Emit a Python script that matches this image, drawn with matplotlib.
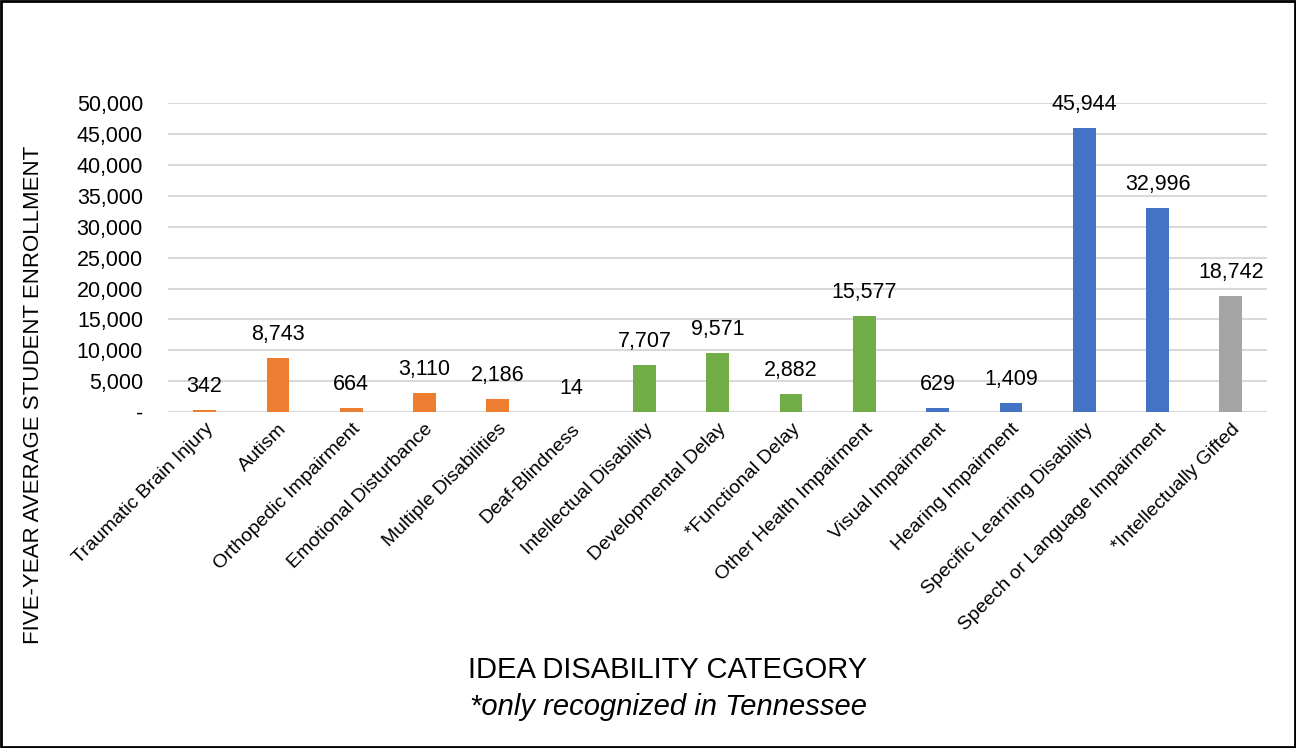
import matplotlib.pyplot as plt
from matplotlib.patches import Rectangle
from matplotlib.ticker import FuncFormatter

plt.rcParams['font.family'] = ['Liberation Sans', 'DejaVu Sans']

categories = ['Traumatic Brain Injury', 'Autism', 'Orthopedic Impairment',
              'Emotional Disturbance', 'Multiple Disabilities', 'Deaf-Blindness',
              'Intellectual Disability', 'Developmental Delay', '*Functional Delay',
              'Other Health Impairment', 'Visual Impairment', 'Hearing Impairment',
              'Specific Learning Disability', 'Speech or Language Impairment',
              '*Intellectually Gifted']
enrollment = [342, 8743, 664, 3110, 2186, 14, 7707, 9571, 2882, 15577,
              629, 1409, 45944, 32996, 18742]
groups = ['o', 'o', 'o', 'o', 'o', 'o', 'g', 'g', 'g', 'g', 'b', 'b', 'b', 'b', 'x']
group_colors = {'o': '#ED7D31', 'g': '#70AD47', 'b': '#4472C4', 'x': '#A5A5A5'}

fig = plt.figure(figsize=(12.96, 7.48), dpi=100)
ax = fig.add_axes([0.1296, 0.449, 0.8484, 0.413])

x = range(len(categories))
colors = [group_colors[g] for g in groups]
ax.bar(x, enrollment, width=0.31, color=colors, zorder=3)

# value labels above bars
for xi, v in zip(x, enrollment):
    ax.text(xi, v + 2100, f'{v:,}', ha='center', va='bottom', fontsize=15.5)

ax.set_ylim(0, 50000)
ax.set_xlim(-0.5, len(categories) - 0.5)
ax.set_yticks(range(0, 50001, 5000))
ax.yaxis.set_major_formatter(FuncFormatter(lambda v, p: '-' if v == 0 else f'{int(v):,}'))
ax.tick_params(axis='y', length=0, labelsize=15.5, pad=18)
ax.tick_params(axis='x', length=0, pad=6)
ax.set_xticks(list(x))
ax.set_xticklabels(categories, rotation=45, ha='right', rotation_mode='anchor', fontsize=14)
ax.grid(axis='y', color='#D9D9D9', linewidth=1.5, zorder=0)
for s in ax.spines.values():
    s.set_visible(False)

ax.set_ylabel('FIVE-YEAR AVERAGE STUDENT ENROLLMENT', fontsize=16)
ax.yaxis.set_label_coords(-0.113, 0.057)

fig.text(0.5155, 0.104, 'IDEA DISABILITY CATEGORY', ha='center', va='center', fontsize=21)
fig.text(0.5155, 0.055, '*only recognized in Tennessee', ha='center', va='center',
         fontsize=21, style='italic')

# border around the whole figure
fig.patches.append(Rectangle((0.001, 0.002), 0.998, 0.996, transform=fig.transFigure,
                             fill=False, edgecolor='black', linewidth=2))

fig.savefig('out.png', dpi=100)
